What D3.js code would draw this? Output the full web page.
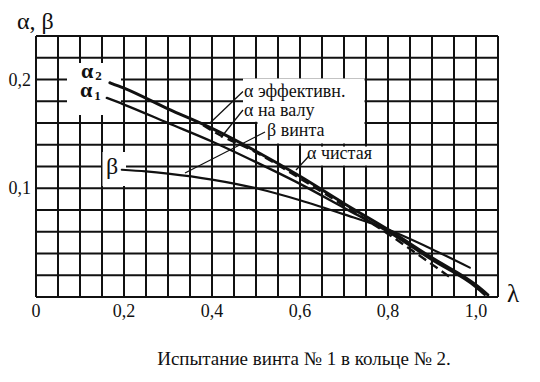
<!DOCTYPE html>
<html><head><meta charset="utf-8">
<script src="https://cdn.jsdelivr.net/npm/d3@7"></script>
<style>body{margin:0;background:#fff}</style>
</head><body><svg id="c" width="540" height="382" style="font-family:'Liberation Serif'"></svg>
<script>
// ---- data ----
const xTicks = [0, 0.2, 0.4, 0.6, 0.8, 1.0];
const xTickLabels = ["0", "0,2", "0,4", "0,6", "0,8", "1,0"];
const yTicks = [0.1, 0.2];
const yTickLabels = ["0,1", "0,2"];

const lamA2 = [0.168, 0.2, 0.3, 0.4, 0.5, 0.6, 0.7, 0.8, 0.9, 1.0, 1.027];
const alpha2 = [0.197, 0.192, 0.173, 0.155, 0.134, 0.111, 0.086, 0.062, 0.036, 0.011, 0.002];

const lamA1 = [0.161, 0.2, 0.3, 0.4, 0.5, 0.6, 0.7, 0.8, 0.9, 1.0, 1.02];
const alpha1 = [0.183, 0.177, 0.160, 0.143, 0.124, 0.104, 0.082, 0.060, 0.034, 0.009, 0.002];

const lamClean = [0.38, 0.4, 0.5, 0.6, 0.7, 0.8, 0.9, 0.945];
const alphaClean = [0.158, 0.153, 0.133, 0.109, 0.084, 0.058, 0.030, 0.017];

const lamB = [0.195, 0.25, 0.3, 0.4, 0.5, 0.6, 0.7, 0.8, 0.9, 0.986];
const beta = [0.117, 0.1155, 0.1135, 0.108, 0.100, 0.089, 0.076, 0.062, 0.044, 0.027];

const curveNames = ["α эффективн.", "α на валу", "β винта", "α чистая"];
const caption = "Испытание винта № 1 в кольце № 2.";

// ---- layout ----
const svg = d3.select("#c");
const x = d3.scaleLinear().domain([0, 1.05]).range([36, 498]);
const y = d3.scaleLinear().domain([0, 0.24]).range([297, 36]);
const ink = "#111";
const SERIF = "'Liberation Serif'";

// grid
const g = svg.append("g").attr("stroke", ink).attr("stroke-width", 2);
d3.range(0, 22).forEach(k => {
  g.append("line").attr("x1", x(k * 0.05)).attr("x2", x(k * 0.05))
    .attr("y1", y(0)).attr("y2", y(0.24));
});
d3.range(0, 13).forEach(k => {
  g.append("line").attr("y1", y(k * 0.02)).attr("y2", y(k * 0.02))
    .attr("x1", x(0)).attr("x2", x(1.05));
});

// white label backgrounds (erase grid)
const masks = [
  [67, 63, 121, 115],     // alpha1/alpha2 labels
  [102.5, 152, 126, 186], // beta label
  [243, 78.5, 364.5, 121.8],
  [257.5, 121, 364.5, 143.5],
  [301.5, 146.5, 386.5, 165.5]
];
svg.append("g").selectAll("rect").data(masks).join("rect")
  .attr("x", d => d[0]).attr("y", d => d[1])
  .attr("width", d => d[2] - d[0]).attr("height", d => d[3] - d[1])
  .attr("fill", "#fff");

// curves
const line = d3.line().x(d => x(d[0])).y(d => y(d[1])).curve(d3.curveMonotoneX);
const zip = (a, b) => a.map((v, i) => [v, b[i]]);
const cg = svg.append("g").attr("fill", "none").attr("stroke", ink).attr("stroke-linecap", "round");
cg.append("path").attr("d", line(zip(lamB, beta))).attr("stroke-width", 2.2);
cg.append("path").attr("d", line(zip(lamA1, alpha1))).attr("stroke-width", 2.4);
cg.append("path").attr("d", line(zip(lamA2, alpha2))).attr("stroke-width", 3);
cg.append("path").attr("d", line(zip(lamClean, alphaClean))).attr("stroke-width", 2.4)
  .attr("stroke-dasharray", "9,5").attr("stroke-linecap", "butt");

// leaders
const leaders = [
  [[243, 91.5], [210, 123]],
  [[243, 110], [221, 137.5]],
  [[265, 132], [185, 173]],
  [[309, 156], [296, 170]]
];
svg.append("g").attr("stroke", ink).attr("stroke-width", 1.3).selectAll("line").data(leaders).join("line")
  .attr("x1", d => d[0][0]).attr("y1", d => d[0][1]).attr("x2", d => d[1][0]).attr("y2", d => d[1][1]);

// texts
const T = (sel) => sel.append("text").style("font-family", SERIF).attr("fill", ink);
const t = svg.append("g");
yTicks.forEach((d, i) => T(t).attr("x", 31).attr("y", y(d) + 6).attr("text-anchor", "end")
  .attr("font-size", 18).text(yTickLabels[i]));
xTicks.forEach((d, i) => T(t).attr("x", x(d)).attr("y", 317).attr("text-anchor", "middle")
  .attr("font-size", 18).text(xTickLabels[i]));

T(t).attr("x", 17).attr("y", 29).attr("font-size", 24).text("α, β");
T(t).attr("x", 513).attr("y", 302).attr("font-size", 25).attr("text-anchor", "middle").text("λ");

const a2 = T(t).attr("x", 81).attr("y", 78).attr("font-size", 22).attr("font-weight", "bold");
a2.append("tspan").text("α");
a2.append("tspan").attr("dy", 2).attr("font-size", 13).attr("dx", 2).text("2");
const a1 = T(t).attr("x", 80).attr("y", 97).attr("font-size", 22).attr("font-weight", "bold");
a1.append("tspan").text("α");
a1.append("tspan").attr("dy", 3).attr("font-size", 13).attr("dx", 2).text("1");
T(t).attr("x", 106).attr("y", 174).attr("font-size", 24).text("β");

const labelPos = [[244, 97], [244, 116], [267, 136], [307, 159]];
curveNames.forEach((d, i) => T(t).attr("x", labelPos[i][0]).attr("y", labelPos[i][1])
  .attr("font-size", 18).text(d));

T(t).attr("x", 304).attr("y", 365).attr("text-anchor", "middle").attr("font-size", 19).text(caption);
</script>
</body></html>
